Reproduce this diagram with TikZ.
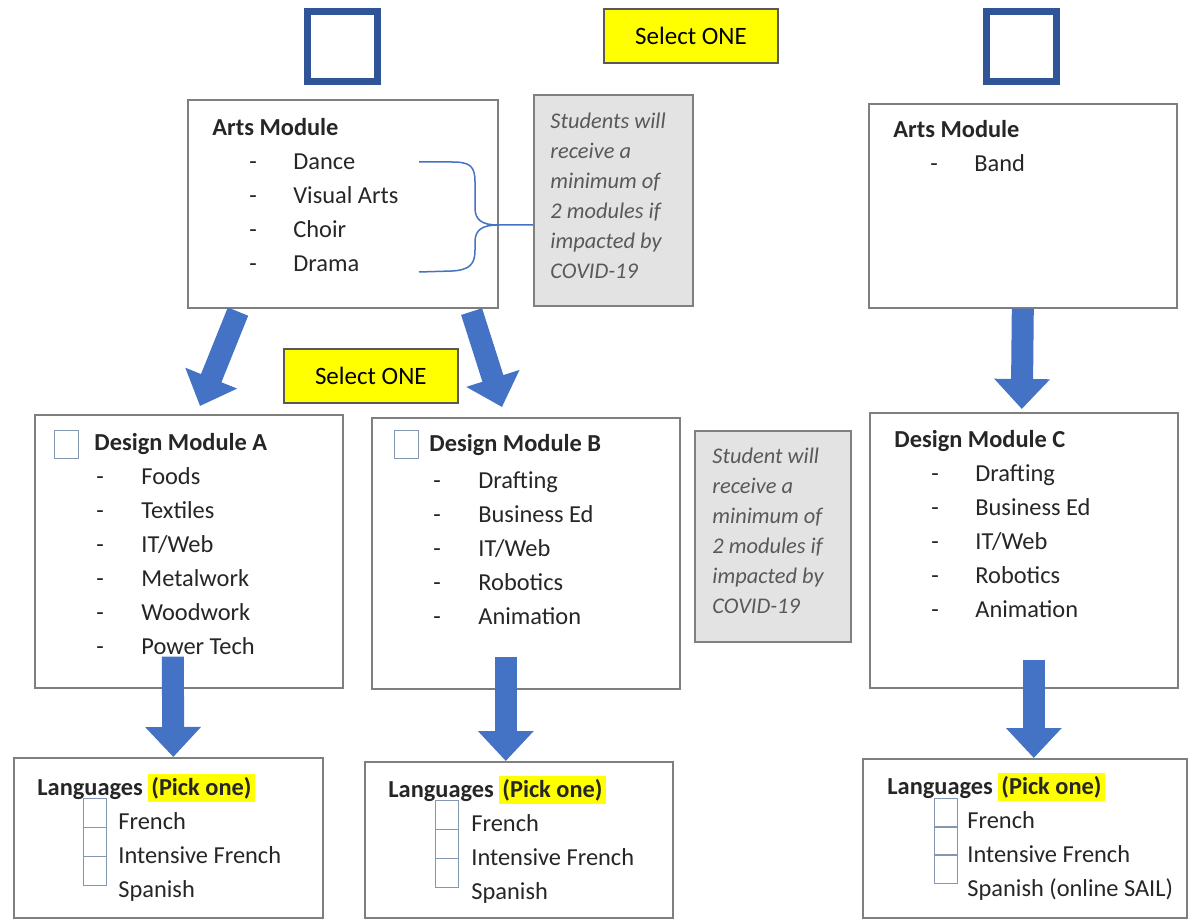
\documentclass[tikz,border=0pt]{standalone}
\usepackage{fontspec}
\setmainfont{Carlito}
\usetikzlibrary{arrows.meta,calc}

\definecolor{arrowblue}{HTML}{4472C4}
\definecolor{squareblue}{HTML}{2F5597}
\definecolor{boxgrey}{HTML}{7F7F7F}
\definecolor{notefill}{HTML}{E3E3E3}
\definecolor{notetext}{HTML}{595959}
\definecolor{tickblue}{HTML}{8497B0}
\definecolor{selyellow}{HTML}{FFFF00}
\setlength{\fboxsep}{1.5pt}

\begin{document}
\begin{tikzpicture}[x=0.5pt, y=-0.5pt,
    box/.style={draw=boxgrey, line width=0.8pt, fill=white, anchor=north west, inner sep=0pt},
    note/.style={box, fill=notefill, draw=gray},
    pick/.style={draw=gray!70!black, line width=0.8pt, fill=selyellow, minimum width=87pt, minimum height=27pt, inner sep=0pt, font=\fontsize{12.5}{15}\selectfont},
    square/.style={draw=squareblue, line width=3.5pt, minimum size=35pt, inner sep=0pt},
    tick/.style={draw=tickblue, line width=0.5pt, minimum width=12pt, minimum height=14pt, inner sep=0pt, anchor=north west},
    ltick/.style={tick, minimum width=11.5pt, minimum height=14.5pt},
    content/.style={anchor=north west, inner sep=0pt, text=black!85, font=\fontsize{12.2}{17}\selectfont},
    notetxt/.style={anchor=north west, inner sep=0pt, text=notetext, font=\fontsize{11.2}{15}\selectfont\itshape},
    brace/.style={draw=arrowblue, line width=0.75pt},
    blockarrow/.style={arrowblue, line width=11pt, -{Triangle[width=27pt,length=15pt]}}]
    \useasboundingbox (0,0) rectangle (1188,919);

    % Top row
    \node[square] (sqL) at (342.5,47) {};
    \node[square] (sqR) at (1021.5,47) {};
    \node[pick] (selTop) at (691,36) {Select ONE};

    \node[box, minimum width=155pt, minimum height=104pt] (artsL) at (187,99) {};
    \node[content] (artsLtxt) at (212,111) {\begin{tabular}{@{}p{18.5pt}@{}p{22pt}@{}l@{}}
        \multicolumn{3}{@{}l@{}}{\textbf{Arts Module}}\\
        & - & Dance\\
        & - & Visual Arts\\
        & - & Choir\\
        & - & Drama
    \end{tabular}};

    \node[note, minimum width=79.5pt, minimum height=105.5pt] (note1) at (533,94) {};
    \node[notetxt] (note1txt) at (550,107.5) {\begin{tabular}{@{}l@{}}
        Students will\\ receive a\\ minimum of\\ 2 modules if\\ impacted by\\ COVID-19
    \end{tabular}};

    \node[box, minimum width=154pt, minimum height=102pt] (artsR) at (868,103) {};
    \node[content] (artsRtxt) at (893,113) {\begin{tabular}{@{}p{18.5pt}@{}p{22pt}@{}l@{}}
        \multicolumn{3}{@{}l@{}}{\textbf{Arts Module}}\\
        & - & Band
    \end{tabular}};

    % Brace
    \coordinate (braceT) at (419,162);
    \coordinate (braceB) at (419,272);
    \coordinate (braceM) at (533,225);
    \draw[brace] (braceT) -- (452,162) .. controls (470,162) and (475,166) .. (475,182)
        -- (475,208) .. controls (475,220) and (482,225) .. (498,225) -- (braceM);
    \draw[brace] (braceB) -- (452,271) .. controls (470,270) and (475,264) .. (475,250)
        -- (475,242) .. controls (475,230) and (482,225) .. (498,225);

    % Middle row
    \node[pick, anchor=north west] (selMid) at (283,348) {Select ONE};

    \node[box, minimum width=154pt, minimum height=136.5pt] (desA) at (34,414) {};
    \node[tick] (tickA) at (54,430) {};
    \node[content] (desAtxt) at (94,426) {\begin{tabular}{@{}p{1pt}@{}p{22.5pt}@{}l@{}}
        \multicolumn{3}{@{}l@{}}{\textbf{Design Module A}}\\
        & - & Foods\\
        & - & Textiles\\
        & - & IT/Web\\
        & - & Metalwork\\
        & - & Woodwork\\
        & - & Power Tech
    \end{tabular}};

    \node[box, minimum width=154pt, minimum height=135.5pt] (desB) at (371,417) {};
    \node[tick] (tickB) at (394,430) {};
    \node[content] (desBtxt) at (429,427) {\begin{tabular}{@{}p{2pt}@{}p{22.5pt}@{}l@{}}
        \multicolumn{3}{@{}l@{}}{\textbf{Design Module B}}\\[1.5pt]
        & - & Drafting\\
        & - & Business Ed\\
        & - & IT/Web\\
        & - & Robotics\\
        & - & Animation
    \end{tabular}};

    \node[note, minimum width=78pt, minimum height=105.5pt] (note2) at (694,430) {};
    \node[notetxt] (note2txt) at (712,442.5) {\begin{tabular}{@{}l@{}}
        Student will\\ receive a\\ minimum of\\ 2 modules if\\ impacted by\\ COVID-19
    \end{tabular}};

    \node[box, minimum width=154pt, minimum height=137.5pt] (desC) at (869,412) {};
    \node[content] (desCtxt) at (894,423) {\begin{tabular}{@{}p{18.5pt}@{}p{22pt}@{}l@{}}
        \multicolumn{3}{@{}l@{}}{\textbf{Design Module C}}\\
        & - & Drafting\\
        & - & Business Ed\\
        & - & IT/Web\\
        & - & Robotics\\
        & - & Animation
    \end{tabular}};

    % Bottom row
    \node[box, minimum width=154.5pt, minimum height=80pt] (lanA) at (13,757) {};
    \node[content] (lanAtxt) at (37,771) {\begin{tabular}{@{}p{40.5pt}@{}l@{}}
        \multicolumn{2}{@{}l@{}}{\textbf{Languages} \colorbox{selyellow}{\textbf{(Pick one)}}}\\
        & French\\
        & Intensive French\\
        & Spanish
    \end{tabular}};
    \node[ltick] (tickA1) at (83,798) {};
    \node[ltick] (tickA2) at (83,827) {};
    \node[ltick] (tickA3) at (83,856) {};

    \node[box, minimum width=154pt, minimum height=78pt] (lanB) at (364,761) {};
    \node[content] (lanBtxt) at (388,773) {\begin{tabular}{@{}p{41.5pt}@{}l@{}}
        \multicolumn{2}{@{}l@{}}{\textbf{Languages} \colorbox{selyellow}{\textbf{(Pick one)}}}\\
        & French\\
        & Intensive French\\
        & Spanish
    \end{tabular}};
    \node[ltick] (tickB1) at (435,800) {};
    \node[ltick] (tickB2) at (435,829) {};
    \node[ltick] (tickB3) at (435,858) {};

    \node[box, minimum width=162pt, minimum height=79.5pt] (lanC) at (862,758) {};
    \node[content] (lanCtxt) at (887,770) {\begin{tabular}{@{}p{40pt}@{}l@{}}
        \multicolumn{2}{@{}l@{}}{\textbf{Languages} \colorbox{selyellow}{\textbf{(Pick one)}}}\\
        & French\\
        & Intensive French\\
        & Spanish (online SAIL)
    \end{tabular}};
    \node[ltick] (tickC1) at (934,798) {};
    \node[ltick] (tickC2) at (934,826) {};
    \node[ltick] (tickC3) at (934,854) {};

    % Arrows
    \draw[blockarrow] ($(artsL.south west)+(51,3)$) -- ($(desA.north west)+(166,-8)$);
    \draw[blockarrow] ($(artsL.south east)+(-27,3)$) -- ($(desB.north west)+(131,-10)$);
    \draw[blockarrow] (artsR.south) -- ($(desC.north)+(-2,-3)$);
    \draw[blockarrow] ($(desA.south)+(-16,-32)$) -- ($(lanA.north)+(5,0)$);
    \draw[blockarrow] ($(desB.south)+(-20,-33)$) -- ($(lanB.north)+(-13,0)$);
    \draw[blockarrow] ($(desC.south)+(10,-29)$) -- ($(lanC.north)+(9,0)$);
\end{tikzpicture}
\end{document}
